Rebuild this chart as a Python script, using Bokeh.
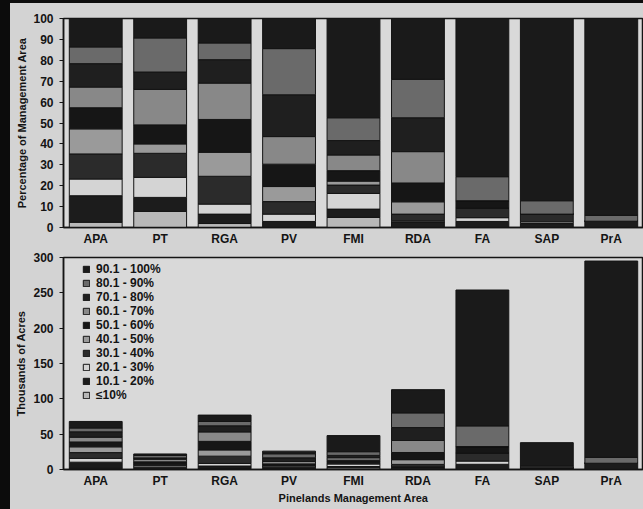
from bokeh.plotting import figure
from bokeh.models import FactorRange, Range1d, Legend, LegendItem, ColumnDataSource, Spacer
from bokeh.layouts import column, row
from bokeh.embed import file_html
from bokeh.resources import INLINE

areas = ["APA", "PT", "RGA", "PV", "FMI", "RDA", "FA", "SAP", "PrA"]
classes = ["≤10%", "10.1 - 20%", "20.1 - 30%", "30.1 - 40%", "40.1 - 50%",
           "50.1 - 60%", "60.1 - 70%", "70.1 - 80%", "80.1 - 90%", "90.1 - 100%"]

# percentage of management area in each class (bottom to top of stack)
pct_le10   = [2.5, 7.7, 1.9, 0.0, 4.8, 0.0, 0.0, 0.0, 0.0]
pct_10_20  = [12.7, 6.7, 4.5, 2.9, 4.0, 2.7, 2.9, 1.9, 3.0]
pct_20_30  = [8.0, 9.6, 4.8, 3.5, 7.5, 0.5, 1.8, 0.8, 0.0]
pct_30_40  = [12.0, 11.5, 13.3, 6.0, 4.0, 3.2, 4.5, 3.7, 0.0]
pct_40_50  = [12.0, 4.5, 11.5, 7.2, 1.9, 5.9, 0.0, 0.0, 0.0]
pct_50_60  = [10.1, 9.1, 15.7, 10.7, 5.0, 9.0, 3.6, 0.0, 0.0]
pct_60_70  = [9.9, 17.0, 17.4, 13.2, 7.5, 15.0, 0.0, 0.0, 0.0]
pct_70_80  = [11.2, 8.3, 11.2, 20.0, 6.9, 16.2, 0.0, 0.0, 0.0]
pct_80_90  = [8.0, 16.3, 8.0, 22.1, 10.9, 18.4, 11.5, 6.4, 2.8]
pct_90_100 = [13.6, 9.3, 11.7, 14.4, 47.5, 29.1, 75.7, 87.2, 94.2]

# total area of each management area, thousands of acres
total_kacres = [68, 22, 77, 26, 48, 113, 254, 38, 295]

pct_series = [pct_le10, pct_10_20, pct_20_30, pct_30_40, pct_40_50,
              pct_50_60, pct_60_70, pct_70_80, pct_80_90, pct_90_100]
colors = ["#b8b8b8", "#1c1c1c", "#d4d4d4", "#2b2b2b", "#9a9a9a",
          "#161616", "#888888", "#1f1f1f", "#6a6a6a", "#1a1a1a"]

keys = ["s%d" % i for i in range(len(classes))]
pct_data = {"area": areas}
acre_data = {"area": areas}
for k, s in zip(keys, pct_series):
    pct_data[k] = s
    acre_data[k] = [t * v / 100.0 for t, v in zip(total_kacres, s)]

FONT = "Liberation Sans"
BG = "#d3d3d3"
PLOT_BG = "#d9d9d9"
INK = "#141414"


def style(p):
    p.background_fill_color = PLOT_BG
    p.border_fill_color = BG
    p.outline_line_color = INK
    p.outline_line_width = 1.5
    p.xgrid.grid_line_color = None
    p.ygrid.grid_line_color = None
    for ax in (p.xaxis[0], p.yaxis[0]):
        ax.axis_line_color = INK
        ax.axis_line_width = 1.5
        ax.major_label_text_font = FONT
        ax.major_label_text_font_style = "bold"
        ax.major_label_text_font_size = "12px"
        ax.major_label_text_color = INK
        ax.axis_label_text_font = FONT
        ax.axis_label_text_font_style = "bold"
        ax.axis_label_text_font_size = "11px"
        ax.axis_label_text_color = INK
        ax.major_tick_line_color = INK
        ax.minor_tick_line_color = None
    p.xaxis.major_tick_line_color = None
    p.xaxis.major_tick_out = 0
    p.xaxis.major_tick_in = 0
    p.xaxis.major_label_standoff = 4
    p.yaxis.major_tick_in = 0
    p.yaxis.major_tick_out = 4
    p.yaxis.major_label_standoff = 6
    p.x_range.range_padding = 0.0
    p.x_range.group_padding = 0.0


p1 = figure(x_range=FactorRange(*areas), y_range=Range1d(0, 100),
            frame_width=580, frame_height=209, output_backend="svg",
            toolbar_location=None, min_border_left=53, min_border_top=15,
            min_border_right=0, min_border_bottom=12)
p1.vbar_stack(keys, x="area", width=0.82, color=colors, line_color=INK,
              line_width=1, source=ColumnDataSource(pct_data))
style(p1)
p1.yaxis.ticker = list(range(0, 101, 10))
p1.yaxis.axis_label = "Percentage of Management Area"
p1.yaxis.axis_label_standoff = 2

p2 = figure(x_range=p1.x_range, y_range=Range1d(0, 300),
            frame_width=580, frame_height=212, output_backend="svg",
            toolbar_location=None, min_border_left=53, min_border_top=9,
            min_border_right=0, min_border_bottom=12)
rs = p2.vbar_stack(keys, x="area", width=0.82, color=colors, line_color=INK,
                   line_width=1, source=ColumnDataSource(acre_data))
style(p2)
p2.yaxis.ticker = list(range(0, 301, 50))
p2.yaxis.axis_label = "Thousands of Acres"
p2.yaxis.axis_label_standoff = 3
p2.xaxis.axis_label = "Pinelands Management Area"
p2.xaxis.axis_label_standoff = 1

items = [LegendItem(label=classes[i], renderers=[rs[i]]) for i in range(len(classes) - 1, -1, -1)]
legend = Legend(items=items, location=(19, 67), padding=0, margin=0,
                spacing=0, glyph_width=8, glyph_height=8, label_height=14,
                label_standoff=6, label_text_font=FONT,
                label_text_font_style="bold", label_text_font_size="12px",
                label_text_color=INK, background_fill_alpha=0,
                border_line_color=None)
p2.add_layout(legend)

top_strip = Spacer(width=633, height=3, styles={"background-color": "#0c0c0c"})
bottom_fill = Spacer(width=633, height=4, styles={"background-color": BG})
left_strip = Spacer(width=10, height=509, styles={"background-color": "#0c0c0c"})
charts = column(top_strip, p1, p2, bottom_fill, spacing=0, styles={"background-color": BG})
layout = row(left_strip, charts, spacing=0, styles={"background-color": BG})
open("out.html", "w").write(file_html(layout, INLINE))
